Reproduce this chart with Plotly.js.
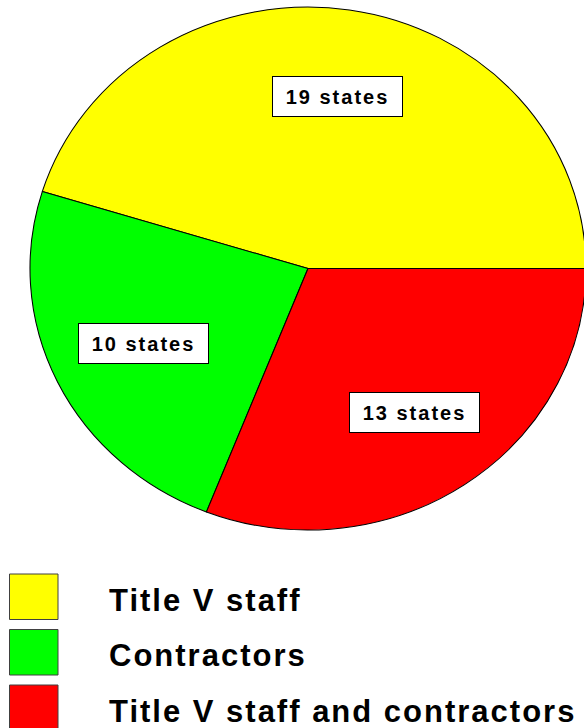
<!DOCTYPE html>
<html>
<head>
<meta charset="utf-8">
<script src="https://cdn.plot.ly/plotly-3.0.1.min.js"></script>
<style>
  html, body { margin: 0; padding: 0; background: #ffffff; }
  #chart { width: 584px; height: 728px; }
  .annotation-text { letter-spacing: 2px; }
</style>
</head>
<body>
<div id="chart"></div>
<script>
// ---- data ----
var categories = ["Title V staff", "Contractors", "Title V staff and contractors"];
var stateCounts = [19, 10, 13];
var sliceLabels = ["19 states", "10 states", "13 states"];
var sliceColors = ["#FFFF00", "#00FF00", "#FF0000"];

// ---- geometry (pixels) ----
var W = 584, H = 728;
var cx = 308, cy = 268.5, r = 261.5;   // circle drawn by plotly
var rx = 278, ry = 261.5;              // ellipse after horizontal stretch
var sx = rx / r;

var total = stateCounts.reduce(function (a, b) { return a + b; }, 0);

// first slice starts at 3 o'clock and runs counterclockwise
var pie = {
  type: "pie",
  values: stateCounts,
  labels: categories,
  sort: false,
  direction: "counterclockwise",
  rotation: 90 - 360 * stateCounts[0] / total,
  textinfo: "none",
  hoverinfo: "none",
  showlegend: false,
  marker: { colors: sliceColors, line: { color: "#000000", width: 1 } },
  domain: { x: [(cx - r) / W, (cx + r) / W], y: [1 - (cy + r) / H, 1 - (cy - r) / H] }
};

var annotations = [];
var shapes = [];
var cum = 0;
for (var i = 0; i < stateCounts.length; i++) {
  var mid = 2 * Math.PI * (cum + stateCounts[i] / 2) / total;
  cum += stateCounts[i];
  var px = cx + 0.665 * rx * Math.cos(mid);
  var py = cy - 0.665 * ry * Math.sin(mid);
  annotations.push({
    xref: "paper", yref: "paper", x: (px + 2) / W, y: 1 - py / H,
    xanchor: "center", yanchor: "middle", showarrow: false,
    text: sliceLabels[i],
    font: { family: "Liberation Sans, Arial, sans-serif", size: 20, weight: "bold", color: "#000000" },
    bgcolor: "#ffffff", bordercolor: "#000000", borderwidth: 1, borderpad: 1,
    width: 127, height: 37, align: "center", valign: "middle"
  });
}

// ---- custom legend ----
var legTop = 574, legStep = 55.5, swH = 45.5;
for (var j = 0; j < categories.length; j++) {
  var y0 = legTop + j * legStep;
  shapes.push({
    type: "rect", xref: "paper", yref: "paper",
    x0: 9.5 / W, x1: 58 / W, y0: 1 - y0 / H, y1: 1 - (y0 + swH) / H,
    fillcolor: sliceColors[j], line: { color: "#404040", width: 1 }
  });
  annotations.push({
    xref: "paper", yref: "paper", x: 107 / W, y: 1 - (y0 + 26) / H,
    xanchor: "left", yanchor: "middle", showarrow: false,
    text: categories[j],
    font: { family: "Liberation Sans, Arial, sans-serif", size: 31, weight: "bold", color: "#000000" }
  });
}

var layout = {
  width: W, height: H,
  margin: { l: 0, r: 0, t: 0, b: 0 },
  paper_bgcolor: "#ffffff",
  plot_bgcolor: "#ffffff",
  showlegend: false,
  annotations: annotations,
  shapes: shapes
};

Plotly.newPlot("chart", [pie], layout, { displayModeBar: false, staticPlot: true }).then(function () {
  var g = document.querySelector(".pielayer");
  if (g) g.setAttribute("transform", "translate(" + cx + ",0) scale(" + sx + ",1) translate(" + (-cx) + ",0)");
});
</script>
</body>
</html>
